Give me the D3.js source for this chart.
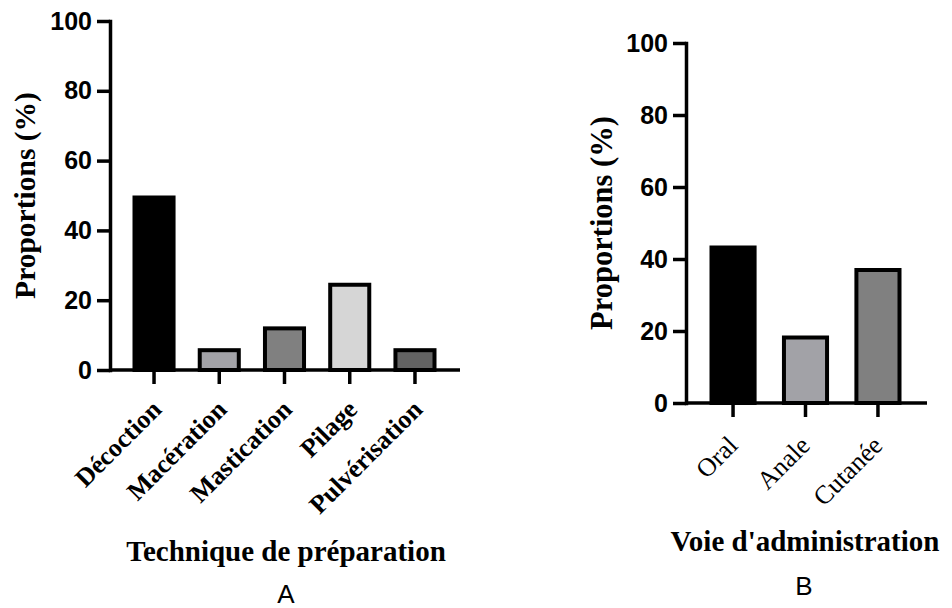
<!DOCTYPE html>
<html>
<head>
<meta charset="utf-8">
<script src="https://cdn.jsdelivr.net/npm/d3@7/dist/d3.min.js"></script>
<style>
  html, body { margin: 0; padding: 0; background: #fff; }
  svg { display: block; }
</style>
</head>
<body>
<svg id="fig" width="952" height="608"></svg>
<script>
// Panel A: preparation techniques
const prepCategories = ["Décoction", "Macération", "Mastication", "Pilage", "Pulvérisation"];
const prepValues = [50, 6.25, 12.5, 25, 6.25];
const prepFills = ["#000000", "#a2a2a7", "#808080", "#d6d6d6", "#636363"];

// Panel B: administration routes
const routeCategories = ["Oral", "Anale", "Cutanée"];
const routeValues = [43.75, 18.75, 37.5];
const routeFills = ["#000000", "#a2a2a7", "#808080"];

// Shared y ticks
const yTicks = [0, 20, 40, 60, 80, 100];

const svg = d3.select("#fig");

function panel(opts) {
  const g = svg.append("g");
  const y = d3.scaleLinear().domain([0, 100]).range([opts.yBottom, opts.yTop]);
  const x = d3.scaleBand()
    .domain(opts.categories)
    .range(opts.bandRange)
    .paddingInner(opts.padInner)
    .paddingOuter(0);

  // bars
  const sw = 4;
  g.selectAll("rect.bar")
    .data(opts.categories.map((c, i) => ({ c, v: opts.values[i], f: opts.fills[i] })))
    .join("rect")
    .attr("class", "bar")
    .attr("x", d => x(d.c) + sw / 2)
    .attr("width", x.bandwidth() - sw)
    .attr("y", d => y(d.v) + sw / 2)
    .attr("height", d => y(0) - y(d.v) - sw / 2)
    .attr("fill", d => d.f)
    .attr("stroke", "#000")
    .attr("stroke-width", sw);

  // y axis
  const yAxis = d3.axisLeft(y).tickValues(yTicks).tickSize(13).tickSizeOuter(0).tickPadding(5);
  const ya = g.append("g").attr("transform", `translate(${opts.axisX},0)`).call(yAxis);
  ya.select(".domain").attr("stroke-width", 3.5).attr("stroke-linecap", "square");
  ya.selectAll(".tick line").attr("stroke-width", 3.5);
  ya.selectAll(".tick text")
    .attr("font-family", "'Liberation Sans', Arial, sans-serif")
    .attr("font-weight", "bold")
    .attr("font-size", 25)
    .attr("fill", "#000");

  // x axis
  const xAxis = d3.axisBottom(x).tickSize(14).tickSizeOuter(0).tickFormat(() => "");
  const xa = g.append("g").attr("transform", `translate(0,${opts.yBottom})`).call(xAxis);
  xa.select(".domain").attr("d", `M${opts.axisX},0H${opts.xEnd}`).attr("stroke-width", 3.5);
  xa.selectAll(".tick line").attr("stroke-width", 3.5);
  xa.selectAll(".tick")
    .append("text")
    .attr("transform", `translate(${opts.labelDx},${opts.labelDy}) rotate(-45)`)
    .attr("text-anchor", "end")
    .attr("fill", "#000")
    .attr("font-family", "'Liberation Serif', 'Times New Roman', serif")
    .attr("font-weight", opts.labelWeight)
    .attr("font-size", opts.labelSize)
    .text(d => d);

  // y title
  g.append("text")
    .attr("transform", `translate(${opts.yTitleX},${(opts.yTop + opts.yBottom) / 2}) rotate(-90)`)
    .attr("text-anchor", "middle")
    .attr("font-family", "'Liberation Serif', 'Times New Roman', serif")
    .attr("font-weight", "bold")
    .attr("font-size", opts.yTitleSize)
    .text("Proportions (%)");

  // x title
  g.append("text")
    .attr("x", opts.xTitleX)
    .attr("y", opts.xTitleY)
    .attr("text-anchor", "middle")
    .attr("font-family", "'Liberation Serif', 'Times New Roman', serif")
    .attr("font-weight", "bold")
    .attr("font-size", 29)
    .text(opts.xTitle);

  // panel letter
  g.append("text")
    .attr("x", opts.letterX)
    .attr("y", opts.letterY)
    .attr("text-anchor", "middle")
    .attr("font-family", "'Liberation Sans', Arial, sans-serif")
    .attr("font-size", 26)
    .text(opts.letter);
}

panel({
  categories: prepCategories, values: prepValues, fills: prepFills,
  yTop: 21, yBottom: 370, axisX: 110, xEnd: 460,
  bandRange: [132.5, 436.5], padInner: 0.34,
  labelWeight: "bold", labelSize: 26, labelDx: 9, labelDy: 41,
  yTitleX: 35, yTitleSize: 29.5,
  xTitle: "Technique de préparation", xTitleX: 286, xTitleY: 561,
  letter: "A", letterX: 286, letterY: 603
});

panel({
  categories: routeCategories, values: routeValues, fills: routeFills,
  yTop: 43, yBottom: 403, axisX: 686, xEnd: 927,
  bandRange: [709.5, 901.5], padInner: 0.35,
  labelWeight: "normal", labelSize: 26, labelDx: 6, labelDy: 44,
  yTitleX: 612, yTitleSize: 30.5,
  xTitle: "Voie d'administration", xTitleX: 805, xTitleY: 551,
  letter: "B", letterX: 804, letterY: 595
});
</script>
</body>
</html>
